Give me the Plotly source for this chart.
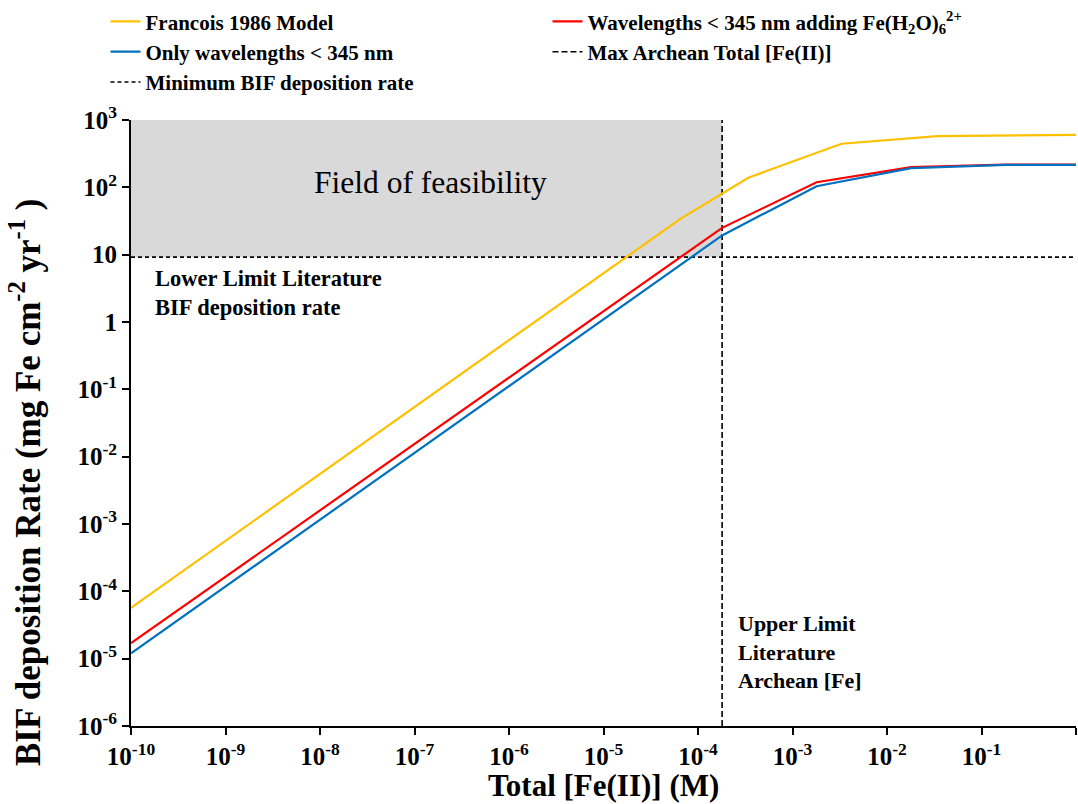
import plotly.graph_objects as go

# Total [Fe(II)] (M) sample points and BIF deposition rates (mg Fe cm^-2 yr^-1)
fe_francois = [1e-10, 6.5e-5, 3.4e-4, 3.3e-3, 3.4e-2, 1]
rate_francois = [5.7e-5, 34, 139, 444, 575, 603]

fe_uv = [1e-10, 1.8e-4, 1.8e-3, 1.8e-2, 1.8e-1, 1]
rate_uv_hexaaqua = [1.7e-5, 25, 119, 200, 217, 217]
rate_uv_only = [1.2e-5, 19.3, 104, 193, 216, 216]

# Reference limits
max_archean_fe = 1.8e-4
min_bif_rate = 9.2
axis_x_min, axis_x_max = 1e-10, 1
axis_y_min, axis_y_max = 1e-6, 1e3

# Tick labels
x_tickvals = [10.0 ** k for k in range(-10, 1)]
x_ticktext = [f"10<sup>{k}</sup>" for k in range(-10, 0)] + ["1"]
y_tickvals = [10.0 ** k for k in range(-6, 4)]
y_ticktext = [f"10<sup>{k}</sup>" for k in range(-6, 0)] + ["1", "10", "10<sup>2</sup>", "10<sup>3</sup>"]

SERIF = "Liberation Serif, Times New Roman, serif"

fig = go.Figure()

# Field of feasibility shading
fig.add_shape(type="rect", xref="x", yref="y",
              x0=axis_x_min, x1=max_archean_fe, y0=min_bif_rate, y1=axis_y_max,
              fillcolor="#d9d9d9", line=dict(width=0), layer="below")

fig.add_trace(go.Scatter(
    x=[max_archean_fe, max_archean_fe], y=[axis_y_min, axis_y_max], mode="lines",
    name="Max Archean Total [Fe(II)]", legendrank=4,
    line=dict(color="black", width=1.6, dash="6px,3px")))
fig.add_trace(go.Scatter(
    x=[axis_x_min, axis_x_max], y=[min_bif_rate, min_bif_rate], mode="lines",
    name="Minimum BIF deposition rate", legendrank=5,
    line=dict(color="black", width=1.6, dash="4px,3px")))

fig.add_trace(go.Scatter(
    x=fe_francois, y=rate_francois, mode="lines", name="Francois 1986 Model",
    legendrank=1, line=dict(color="#FFC000", width=2.2)))
fig.add_trace(go.Scatter(
    x=fe_uv, y=rate_uv_hexaaqua, mode="lines",
    name="Wavelengths < 345 nm adding Fe(H<sub>2</sub>O)<sub>6</sub><sup>2+</sup>",
    legendrank=2, line=dict(color="#FF0000", width=2.2)))
fig.add_trace(go.Scatter(
    x=fe_uv, y=rate_uv_only, mode="lines", name="Only wavelengths < 345 nm",
    legendrank=3, line=dict(color="#0070C0", width=2.2)))

bold = dict(family=SERIF, color="black", weight="bold")

fig.add_annotation(x=-6.835, y=2.07, xref="x", yref="y", text="Field of feasibility",
                   showarrow=False, font=dict(family=SERIF, size=31.5, color="black"))
fig.add_annotation(x=-9.77, y=0.43, xref="x", yref="y",
                   text="Lower Limit Literature<br>BIF deposition rate",
                   showarrow=False, xanchor="left", align="left",
                   font=dict(**bold, size=22.5))
fig.add_annotation(x=-3.6, y=-4.9, xref="x", yref="y",
                   text="Upper Limit<br>Literature<br>Archean [Fe]",
                   showarrow=False, xanchor="left", align="left",
                   font=dict(**bold, size=22))

# Axis titles
fig.add_annotation(x=0.5, y=0, xref="paper", yref="paper", yshift=-59,
                   text="Total [Fe(II)] (M)", showarrow=False,
                   xanchor="center", yanchor="middle",
                   font=dict(**bold, size=31))
fig.add_annotation(x=0, y=0.5, xref="paper", yref="paper", xshift=-106, yshift=-60,
                   text="BIF deposition Rate (mg Fe cm<sup>-2</sup> yr<sup>-1</sup> )",
                   textangle=-90, showarrow=False, xanchor="center", yanchor="middle",
                   font=dict(**bold, size=35))

axis_common = dict(
    showgrid=False, zeroline=False, showline=True, linecolor="black", linewidth=2,
    ticks="outside", ticklen=7, tickwidth=2, tickcolor="black",
    tickfont=dict(**bold, size=25),
)

fig.update_xaxes(type="log", range=[-10, 0], tickvals=x_tickvals, ticktext=x_ticktext,
                 **axis_common)
fig.update_yaxes(type="log", range=[-6, 3], tickvals=y_tickvals, ticktext=y_ticktext,
                 **axis_common)

fig.update_layout(
    width=1078, height=804,
    margin=dict(l=131, r=2, t=119, b=78),
    paper_bgcolor="white", plot_bgcolor="white",
    legend=dict(orientation="h", x=-0.027, xanchor="left", y=1.194, yanchor="top",
                entrywidth=397, entrywidthmode="pixels", traceorder="normal",
                font=dict(**bold, size=21), bgcolor="rgba(0,0,0,0)",
                itemwidth=30, tracegroupgap=0),
)

fig.write_html("out.html")
